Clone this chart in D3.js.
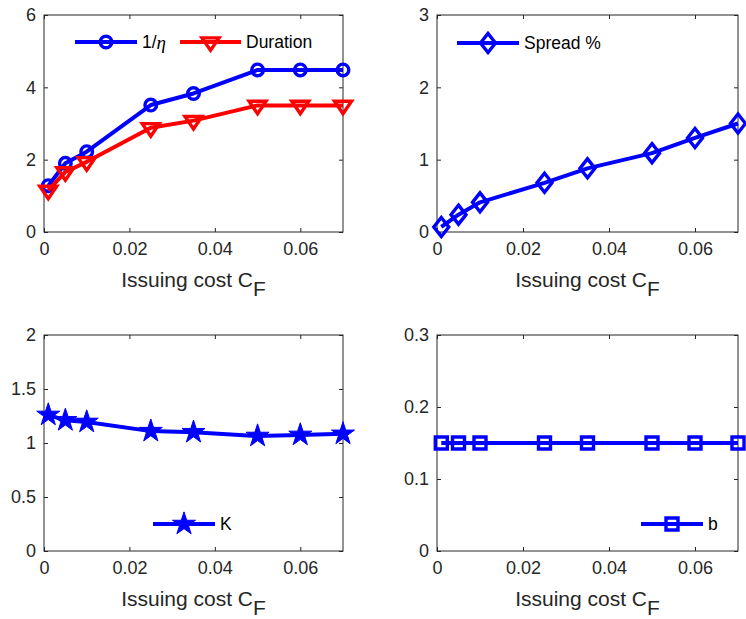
<!DOCTYPE html>
<html>
<head>
<meta charset="utf-8">
<script src="https://cdn.jsdelivr.net/npm/d3@7"></script>
<style>
  html, body { margin: 0; padding: 0; background: #fff; }
  svg { display: block; }
  .tick text { font-family: "Liberation Sans", Arial, sans-serif; font-size: 18px; fill: #262626; }
</style>
</head>
<body>
<svg id="chart" width="746" height="619"></svg>
<script>
// Issuing cost grid shared by all four panels
const issuingCost = [0.001, 0.005, 0.01, 0.025, 0.035, 0.05, 0.06, 0.07];

// Series values
const invEta   = [1.28, 1.90, 2.22, 3.51, 3.83, 4.48, 4.48, 4.48];
const duration = [1.15, 1.66, 1.94, 2.88, 3.08, 3.50, 3.50, 3.50];
const spread   = [0.07, 0.24, 0.41, 0.68, 0.88, 1.09, 1.30, 1.50];
const kValues  = [1.26, 1.21, 1.195, 1.11, 1.10, 1.065, 1.075, 1.085];
const bValues  = [0.15, 0.15, 0.15, 0.15, 0.15, 0.15, 0.15, 0.15];

// Tick values
const xTicks   = [0, 0.02, 0.04, 0.06];
const yTicksTL = [0, 2, 4, 6];
const yTicksTR = [0, 1, 2, 3];
const yTicksBL = [0, 0.5, 1, 1.5, 2];
const yTicksBR = [0, 0.1, 0.2, 0.3];

const BLUE = "#0000ff", RED = "#ff0000", AX = "#262626";
const FONT = "'Liberation Sans', Arial, sans-serif";

const svg = d3.select("#chart");

// Marker shapes
function markerPath(type) {
  switch (type) {
    case "circle": return d3.symbol(d3.symbolCircle, Math.PI * 5.8 * 5.8)();
    case "triangleDown": {
      const a = 8.5, h = 12.5;
      return `M${-a},${-h / 3}L${a},${-h / 3}L0,${2 * h / 3}Z`;
    }
    case "diamond": {
      const w = 7.5, h = 9.5;
      return `M0,${-h}L${w},0L0,${h}L${-w},0Z`;
    }
    case "square": {
      const s = 6;
      return `M${-s},${-s}H${s}V${s}H${-s}Z`;
    }
    case "star": return d3.symbol(d3.symbolStar, 165)();
  }
}

function drawMarker(g, type, color, x, y) {
  const filled = type === "star";
  g.append("path")
    .attr("d", markerPath(type))
    .attr("transform", `translate(${x},${y})`)
    .attr("fill", filled ? color : "none")
    .attr("stroke", color)
    .attr("stroke-width", filled ? 1 : 3.4)
    .attr("stroke-linejoin", "miter");
}

function panel(opts) {
  const { left, right, top, bottom, yDomain, yTicks, series, legend } = opts;
  const g = svg.append("g");
  const x = d3.scaleLinear().domain([0, 0.07]).range([left, right]);
  const y = d3.scaleLinear().domain(yDomain).range([bottom, top]);
  const fmt = d => String(d);

  // Box frame
  g.append("rect")
    .attr("x", left).attr("y", top)
    .attr("width", right - left).attr("height", bottom - top)
    .attr("fill", "none").attr("stroke", AX).attr("stroke-width", 1);

  // Axes with inward ticks
  const bx = g.append("g").attr("transform", `translate(0,${bottom})`)
    .call(d3.axisBottom(x).tickValues(xTicks).tickFormat(fmt).tickSizeInner(-4).tickSizeOuter(0).tickPadding(10));
  const ly = g.append("g").attr("transform", `translate(${left},0)`)
    .call(d3.axisLeft(y).tickValues(yTicks).tickFormat(fmt).tickSizeInner(-4).tickSizeOuter(0).tickPadding(8));
  const tx = g.append("g").attr("transform", `translate(0,${top})`)
    .call(d3.axisTop(x).tickValues(xTicks).tickFormat("").tickSizeInner(-4).tickSizeOuter(0));
  const ry = g.append("g").attr("transform", `translate(${right},0)`)
    .call(d3.axisRight(y).tickValues(yTicks).tickFormat("").tickSizeInner(-4).tickSizeOuter(0));
  [bx, ly, tx, ry].forEach(a => {
    a.select(".domain").remove();
    a.selectAll(".tick line").attr("stroke", AX);
  });
  bx.selectAll(".tick text").attr("dy", "0.71em");

  // x-axis title
  const t = g.append("text")
    .attr("x", (left + right) / 2).attr("y", bottom + 55)
    .attr("text-anchor", "middle")
    .attr("font-family", FONT).attr("font-size", 21).attr("fill", AX);
  t.append("tspan").text("Issuing cost C");
  t.append("tspan").attr("dy", 9).text("F");

  // Series lines and markers
  const line = d3.line().x((d, i) => x(issuingCost[i])).y(d => y(d));
  series.forEach(s => {
    g.append("path").datum(s.values)
      .attr("d", line).attr("fill", "none")
      .attr("stroke", s.color).attr("stroke-width", 4)
      .attr("stroke-linejoin", "round");
    s.values.forEach((v, i) => drawMarker(g, s.marker, s.color, x(issuingCost[i]), y(v)));
  });

  // Legend entries
  legend.forEach(item => {
    const s = series[item.series];
    g.append("line")
      .attr("x1", item.x0).attr("x2", item.x1)
      .attr("y1", item.y).attr("y2", item.y)
      .attr("stroke", s.color).attr("stroke-width", 4);
    drawMarker(g, s.marker, s.color, (item.x0 + item.x1) / 2, item.y);
    const lt = g.append("text")
      .attr("x", item.x1 + 5).attr("y", item.y)
      .attr("dominant-baseline", "central")
      .attr("font-family", FONT).attr("font-size", 17.5).attr("fill", "#000");
    if (item.label === "1/η") {
      lt.append("tspan").text("1/");
      lt.append("tspan").attr("font-family", "'Liberation Serif', 'DejaVu Serif', serif")
        .attr("font-style", "italic").attr("font-size", 19).text("η");
    } else {
      lt.text(item.label);
    }
  });
}

panel({
  left: 44, right: 343, top: 15, bottom: 232,
  yDomain: [0, 6], yTicks: yTicksTL,
  series: [
    { values: invEta, color: BLUE, marker: "circle" },
    { values: duration, color: RED, marker: "triangleDown" }
  ],
  legend: [
    { series: 0, label: "1/η", x0: 75, x1: 137, y: 42 },
    { series: 1, label: "Duration", x0: 180, x1: 241, y: 42 }
  ]
});

panel({
  left: 437, right: 738, top: 15, bottom: 232,
  yDomain: [0, 3], yTicks: yTicksTR,
  series: [{ values: spread, color: BLUE, marker: "diamond" }],
  legend: [{ series: 0, label: "Spread %", x0: 457, x1: 519, y: 43 }]
});

panel({
  left: 44, right: 343, top: 335, bottom: 551,
  yDomain: [0, 2], yTicks: yTicksBL,
  series: [{ values: kValues, color: BLUE, marker: "star" }],
  legend: [{ series: 0, label: "K", x0: 153, x1: 215, y: 524 }]
});

panel({
  left: 437, right: 738, top: 335, bottom: 551,
  yDomain: [0, 0.3], yTicks: yTicksBR,
  series: [{ values: bValues, color: BLUE, marker: "square" }],
  legend: [{ series: 0, label: "b", x0: 641, x1: 703, y: 524 }]
});
</script>
</body>
</html>
